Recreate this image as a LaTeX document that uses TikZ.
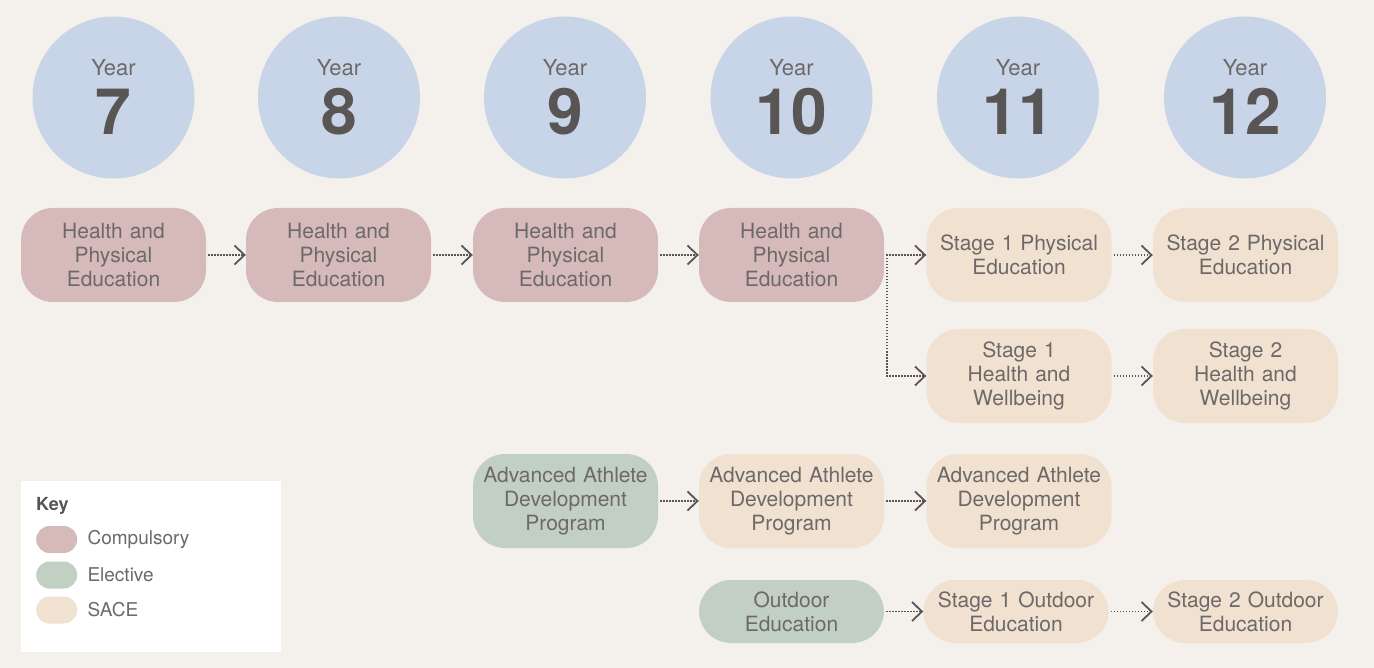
\documentclass[tikz,border=0pt]{standalone}
\usepackage{fontspec}
\setmainfont{TeX Gyre Heros}
\usetikzlibrary{arrows.meta,calc}
\definecolor{bg}{HTML}{F4F1EC}
\definecolor{circ}{HTML}{C8D5E8}
\definecolor{comp}{HTML}{D6BABA}
\definecolor{elec}{HTML}{C2D0C3}
\definecolor{sace}{HTML}{F0E1D0}
\definecolor{txt}{HTML}{6E6969}
\definecolor{dark}{HTML}{5A5555}
\tikzset{
  box/.style={rounded corners=32pt, minimum width=185pt, minimum height=94pt, inner sep=0pt,
    text width=183pt, align=center, text=txt, font=\fontsize{21}{24}\selectfont},
  lowbox/.style={box, minimum height=63pt},
  compbox/.style={box, fill=comp},
  elecbox/.style={box, fill=elec},
  sacebox/.style={box, fill=sace},
  yearcirc/.style={circle, fill=circ, minimum size=162pt, inner sep=0pt},
  yeartxt/.style={anchor=base, text=txt, font=\fontsize{22}{24}\selectfont},
  yearnum/.style={anchor=base, text=dark, font=\fontsize{64}{66}\selectfont\bfseries},
  arr/.style={draw=dark, line width=1.5pt, dash pattern=on 1.5pt off 1.5pt, shorten <=2pt,
    -{Straight Barb[length=10pt,width=19pt,line width=1.8pt]}},
  swatch/.style={rounded corners=13.5pt, minimum width=41pt, minimum height=27pt, inner sep=0pt},
  keytxt/.style={anchor=west, text=txt, font=\fontsize{19}{22}\selectfont},
}
\begin{document}
\begin{tikzpicture}[x=1pt,y=-1pt]
\fill[bg] (0,0) rectangle (1374,668);
\useasboundingbox (0,0) rectangle (1374,668);
% year circles
\foreach \n/\x in {7/113.5,8/339,9/565,10/791.5,11/1018,12/1245}{
  \node[yearcirc] (c\n) at (\x,97.5) {};
  \node[yeartxt] (yt\n) at (\x,76) {Year};
  \node[yearnum] (yn\n) at (\x,135) {\n};
}
% row 1
\node[compbox] (h7) at (113.5,255) {Health and\\Physical\\Education};
\node[compbox] (h8) at (338.5,255) {Health and\\Physical\\Education};
\node[compbox] (h9) at (565.5,255) {Health and\\Physical\\Education};
\node[compbox] (h10) at (791.5,255) {Health and\\Physical\\Education};
\node[sacebox] (s1pe) at (1019,255) {Stage 1 Physical\\Education};
\node[sacebox] (s2pe) at (1245.5,255) {Stage 2 Physical\\Education};
% row 2
\node[sacebox] (s1hw) at (1019,376) {Stage 1\\Health and\\Wellbeing};
\node[sacebox] (s2hw) at (1245.5,376) {Stage 2\\Health and\\Wellbeing};
% row 3
\node[elecbox] (a9) at (565.5,501) {Advanced Athlete\\Development\\Program};
\node[sacebox] (a10) at (791.5,501) {Advanced Athlete\\Development\\Program};
\node[sacebox] (a11) at (1019,501) {Advanced Athlete\\Development\\Program};
% row 4
\node[elecbox,lowbox] (o10) at (791.5,611.5) {Outdoor\\Education};
\node[sacebox,lowbox] (o11) at (1016,611.5) {Stage 1 Outdoor\\Education};
\node[sacebox,lowbox] (o12) at (1245.5,611.5) {Stage 2 Outdoor\\Education};
% connectors
\draw[arr] (h7) -- (h8);
\draw[arr] (h8) -- (h9);
\draw[arr] (h9) -- (h10);
\draw[arr] (h10) -- (s1pe);
\coordinate (br) at ([xshift=3pt]h10.east);
\draw[arr, shorten <=0pt] (br) |- (s1hw.west);
\draw[arr] (s1pe) -- (s2pe);
\draw[arr] (s1hw) -- (s2hw);
\draw[arr] (a9) -- (a10);
\draw[arr] (a10) -- (a11);
\draw[arr] (o10) -- (o11);
\draw[arr] (o11) -- (o12);
% key
\node[fill=white, minimum width=260pt, minimum height=171pt, inner sep=0pt, anchor=north west] (keybox) at (21,481) {};
\node[anchor=base west, text=dark, font=\fontsize{18}{20}\selectfont\bfseries, inner sep=0pt] (keyt) at (36,510) {Key};
\node[swatch, fill=comp, anchor=west] (k1) at (36,539.5) {};
\node[swatch, fill=elec, anchor=west] (k2) at (36,575) {};
\node[swatch, fill=sace, anchor=west] (k3) at (36,610) {};
\node[keytxt] (kt1) at (84,539.5) {Compulsory};
\node[keytxt] (kt2) at (84,575) {Elective};
\node[keytxt] (kt3) at (84,610) {SACE};
\end{tikzpicture}
\end{document}
